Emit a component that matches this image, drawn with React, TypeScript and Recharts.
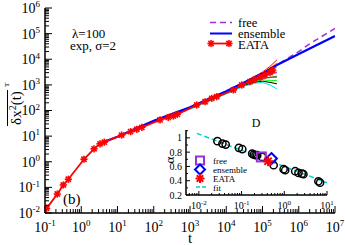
import React from "react";
import { ComposedChart, Scatter, XAxis, YAxis, CartesianGrid } from "recharts";

const FONT = "Liberation Serif, Times New Roman, serif";

// EATA (red, star markers)
const eataT = [0.111, 0.218, 0.32, 0.44, 1.19, 2.25, 3.29, 4.32, 13, 23, 34, 47, 149, 252, 346, 446, 1530, 2600, 3970, 5460, 15700, 26700, 45200, 62100, 85300, 117000, 161000, 191000];
const eataMsd = [0.0152, 0.055, 0.124, 0.207, 1.25, 3.2, 5.0, 5.8, 11, 15, 18.5, 22, 43, 54, 61, 71, 164, 220, 299, 346, 631, 989, 1330, 1650, 1980, 2430, 2990, 3800];

// ensemble (blue)
const ensT = [4.3, 10, 30, 100, 300, 1000, 3000, 1e4, 3e4, 1e5, 2.5e5, 1e6, 1e7];
const ensMsd = [6, 9.5, 19, 40, 72, 135, 270, 560, 1200, 2700, 6000, 16000, 80700];

// free (violet dashed)
const freeT = [1e5, 2.5e5, 1e6, 2e6, 1e7];
const freeMsd = [2700, 6000, 20000, 40000, 160000];

// single trajectories (thin)
const trajT = [100, 1000, 1e4, 3e4, 6e4, 1e5, 1.6e5, 2.5e5];
const trajColors = ["#ff0000", "#ff8c00", "#0000ff", "#ff00ff", "#e6e600", "#9400d3", "#00a000", "#a52a2a", "#00ff00", "#000000", "#00e0e0"];
const trajRed = [40, 130, 540, 1200, 2100, 3200, 5200, 9500];
const trajOrange = [39, 128, 520, 1150, 2000, 3000, 4600, 7000];
const trajBlue = [40, 132, 550, 1200, 2100, 2900, 4300, 6000];
const trajMagenta = [39, 126, 510, 1100, 1800, 2600, 3700, 5000];
const trajYellow = [38, 122, 490, 1050, 1650, 2200, 2900, 3500];
const trajViolet = [39, 125, 500, 1050, 1600, 2100, 2700, 3000];
const trajGreen = [38, 120, 480, 1000, 1500, 1900, 1900, 2200];
const trajMaroon = [39, 122, 480, 980, 1400, 1750, 2000, 2000];
const trajLime = [37, 118, 470, 950, 1350, 1600, 1450, 1500];
const trajBlack = [38, 120, 460, 930, 1250, 1400, 1250, 1100];
const trajCyan = [36, 112, 440, 880, 1150, 1250, 1000, 700];
const trajs = [trajRed, trajOrange, trajBlue, trajMagenta, trajYellow, trajViolet, trajGreen, trajMaroon, trajLime, trajBlack, trajCyan];

// inset: alpha vs D
const circD = [0.0272, 0.0356, 0.0425, 0.0865, 0.104, 0.177, 0.193, 0.212, 0.232, 0.303, 0.564, 0.964, 1.05, 1.8, 2.15, 2.58, 2.81, 6.28, 6.87];
const circA = [0.954, 0.92, 0.906, 0.86, 0.841, 0.779, 0.766, 0.757, 0.757, 0.733, 0.617, 0.561, 0.547, 0.533, 0.509, 0.499, 0.491, 0.392, 0.373];
const fitD = [0.009, 10];
const fitA = [1.063, 0.372];
const freeD = [0.29];
const freeA = [0.733];
const ensD = [0.5];
const ensA = [0.71];
const eataD = [0.417];
const eataA = [0.673];

const mainXMajor = [0.1, 1, 10, 100, 1e3, 1e4, 1e5, 1e6, 1e7];
const mainYMajor = [0.01, 0.1, 1, 10, 100, 1e3, 1e4, 1e5, 1e6];
const insetXMajor = [0.01, 0.1, 1, 10];
const insetYMajor = [0.2, 0.4, 0.6, 0.8, 1];
const insetYLabels = ["0.2", "0.4", "0.6", "0.8", "1"];

function withMinor(majors: number[]) {
  const out: number[] = [];
  majors.forEach((m, i) => {
    out.push(m);
    if (i < majors.length - 1) for (let k = 2; k < 10; k++) out.push(m * k);
  });
  return out;
}
const mainXTicks = withMinor(mainXMajor);
const mainYTicks = withMinor(mainYMajor);
const insetXTicks = [0.006, 0.007, 0.008, 0.009, ...withMinor(insetXMajor)];
const insetYTicks = [0.2, 0.3, 0.4, 0.5, 0.6, 0.7, 0.8, 0.9, 1, 1.1];

const zip = (xs: number[], ys: number[]) => xs.map((x, i) => ({ x, y: ys[i] }));

const isMajor = (v: number, majors: number[]) => majors.some((m) => Math.abs(m - v) < 1e-9 * Math.max(1, m));
const expOf = (v: number) => Math.round(Math.log10(v));

function StarMark({ cx, cy, r = 3.6, color = "#ff0000", w = 1.6 }: any) {
  const d = r * 0.72;
  return (
    <g stroke={color} strokeWidth={w}>
      <line x1={cx - r} y1={cy} x2={cx + r} y2={cy} />
      <line x1={cx} y1={cy - r} x2={cx} y2={cy + r} />
      <line x1={cx - d} y1={cy - d} x2={cx + d} y2={cy + d} />
      <line x1={cx - d} y1={cy + d} x2={cx + d} y2={cy - d} />
      <circle cx={cx} cy={cy} r={r * 0.45} fill={color} stroke="none" />
    </g>
  );
}
const Square = ({ cx, cy, s = 4.5 }: any) => (
  <rect x={cx - s} y={cy - s} width={2 * s} height={2 * s} fill="none" stroke="#9b30d9" strokeWidth={2} />
);
const Diamond = ({ cx, cy, s = 5.5 }: any) => (
  <polygon points={`${cx},${cy - s} ${cx + s},${cy} ${cx},${cy + s} ${cx - s},${cy}`} fill="none" stroke="#0000ff" strokeWidth={2} />
);
const Circ = ({ cx, cy }: any) => <circle cx={cx} cy={cy} r={3.6} fill="none" stroke="#000" strokeWidth={1.5} />;
const NoMark = () => <g />;

function makeLogTick(side: "b" | "t" | "l" | "r", majors: number[], big: number, small: number, fs: number, sfs: number, off: number, label: boolean) {
  return (props: any) => {
    const { x, y, payload } = props;
    const v = payload.value;
    const maj = isMajor(v, majors);
    const len = maj ? big : small;
    let line;
    if (side === "b") line = <line x1={x} y1={y} x2={x} y2={y - len} stroke="#000" />;
    else if (side === "t") line = <line x1={x} y1={y} x2={x} y2={y + len} stroke="#000" />;
    else if (side === "l") line = <line x1={x} y1={y} x2={x + len} y2={y} stroke="#000" />;
    else line = <line x1={x} y1={y} x2={x - len} y2={y} stroke="#000" />;
    let txt = null;
    if (label && maj) {
      const e = expOf(v);
      if (side === "b")
        txt = (
          <text x={x} y={y + off} textAnchor="middle" fontFamily={FONT} fontSize={fs} fill="#000">
            10<tspan dy={-fs * 0.4} fontSize={sfs}>{e}</tspan>
          </text>
        );
      else
        txt = (
          <text x={x - off} y={y + fs * 0.35} textAnchor="end" fontFamily={FONT} fontSize={fs} fill="#000">
            10<tspan dy={-fs * 0.4} fontSize={sfs}>{e}</tspan>
          </text>
        );
    }
    return (
      <g>
        {line}
        {txt}
      </g>
    );
  };
}

const InsetYTick = (props: any) => {
  const { x, y, payload } = props;
  const v = payload.value;
  const idx = insetYMajor.findIndex((m) => Math.abs(m - v) < 1e-9);
  const maj = idx >= 0;
  return (
    <g>
      <line x1={x} y1={y} x2={x + (maj ? 4 : 2)} y2={y} stroke="#000" />
      {maj && (
        <text x={x - 4} y={y + 3.5} textAnchor="end" fontFamily={FONT} fontSize={10} fill="#000">
          {insetYLabels[idx]}
        </text>
      )}
    </g>
  );
};
const InsetYTickR = (props: any) => {
  const { x, y, payload } = props;
  const maj = insetYMajor.some((m) => Math.abs(m - payload.value) < 1e-9);
  return <line x1={x} y1={y} x2={x - (maj ? 4 : 2)} y2={y} stroke="#000" />;
};

const axisLine = { stroke: "#000", strokeWidth: 1.5 };

function MainChart() {
  return (
    <ComposedChart width={345} height={245} margin={{ top: 8, right: 10, bottom: 0, left: 0 }}>
      <XAxis xAxisId="b" dataKey="x" type="number" scale="log" domain={[0.1, 1e7]} allowDataOverflow ticks={mainXTicks} interval={0} tickSize={0} tickMargin={0} height={32} axisLine={axisLine} tickLine={false} tick={makeLogTick("b", mainXMajor, 7, 4, 14, 9, 19, true)} />
      <XAxis xAxisId="t" orientation="top" dataKey="x" type="number" scale="log" domain={[0.1, 1e7]} allowDataOverflow ticks={mainXTicks} interval={0} tickSize={0} tickMargin={0} height={0} axisLine={axisLine} tickLine={false} tick={makeLogTick("t", mainXMajor, 7, 4, 14, 9, 19, false)} />
      <YAxis yAxisId="l" dataKey="y" type="number" scale="log" domain={[0.01, 1e6]} allowDataOverflow ticks={mainYTicks} interval={0} tickSize={0} tickMargin={0} width={45} axisLine={axisLine} tickLine={false} tick={makeLogTick("l", mainYMajor, 7, 4, 14, 9, 5, true)} />
      <YAxis yAxisId="r" orientation="right" dataKey="y" type="number" scale="log" domain={[0.01, 1e6]} allowDataOverflow ticks={mainYTicks} interval={0} tickSize={0} tickMargin={0} width={0} axisLine={axisLine} tickLine={false} tick={makeLogTick("r", mainYMajor, 7, 4, 14, 9, 5, false)} />
      {trajs.map((tr, i) => (
        <Scatter key={i} xAxisId="b" yAxisId="l" data={zip(trajT, tr)} line={{ stroke: trajColors[i], strokeWidth: 1 }} shape={NoMark} isAnimationActive={false} />
      ))}
      <Scatter xAxisId="b" yAxisId="l" data={zip(freeT, freeMsd)} line={{ stroke: "#9b30d9", strokeWidth: 1.5, strokeDasharray: "6 4" }} shape={NoMark} isAnimationActive={false} />
      <Scatter xAxisId="b" yAxisId="l" data={zip(ensT, ensMsd)} line={{ stroke: "#0000ff", strokeWidth: 2.2 }} shape={NoMark} isAnimationActive={false} />
      <Scatter xAxisId="b" yAxisId="l" data={zip(eataT, eataMsd)} line={{ stroke: "#ff0000", strokeWidth: 1.8 }} shape={(p: any) => <StarMark cx={p.cx} cy={p.cy} />} isAnimationActive={false} />
    </ComposedChart>
  );
}

function InsetChart() {
  return (
    <ComposedChart width={175} height={100} margin={{ top: 18, right: 8, bottom: 0, left: 0 }}>
      <CartesianGrid xAxisId="ib" yAxisId="il" horizontal={false} vertical={false} fill="#ffffff" fillOpacity={1} />
      <XAxis xAxisId="ib" dataKey="x" type="number" scale="log" domain={[0.005, 10]} allowDataOverflow ticks={insetXTicks} interval={0} tickSize={0} tickMargin={0} height={17} axisLine={axisLine} tickLine={false} tick={makeLogTick("b", insetXMajor, 4, 2, 10, 7, 14, true)} />
      <XAxis xAxisId="it" orientation="top" dataKey="x" type="number" scale="log" domain={[0.005, 10]} allowDataOverflow ticks={insetXTicks} interval={0} tickSize={0} tickMargin={0} height={0} axisLine={axisLine} tickLine={false} tick={makeLogTick("t", insetXMajor, 4, 2, 10, 7, 14, false)} />
      <YAxis yAxisId="il" dataKey="y" type="number" domain={[0.2, 1.11]} allowDataOverflow ticks={insetYTicks} interval={0} tickSize={0} tickMargin={0} width={26} axisLine={axisLine} tickLine={false} tick={InsetYTick} />
      <YAxis yAxisId="ir" orientation="right" dataKey="y" type="number" domain={[0.2, 1.11]} allowDataOverflow ticks={insetYTicks} interval={0} tickSize={0} tickMargin={0} width={0} axisLine={axisLine} tickLine={false} tick={InsetYTickR} />
      <Scatter xAxisId="ib" yAxisId="il" data={zip(fitD, fitA)} line={{ stroke: "#00d0d0", strokeWidth: 1.5, strokeDasharray: "5 3" }} shape={NoMark} isAnimationActive={false} />
      <Scatter xAxisId="ib" yAxisId="il" data={zip(circD, circA)} shape={Circ} isAnimationActive={false} />
      <Scatter xAxisId="ib" yAxisId="il" data={zip(freeD, freeA)} shape={Square} isAnimationActive={false} />
      <Scatter xAxisId="ib" yAxisId="il" data={zip(ensD, ensA)} shape={Diamond} isAnimationActive={false} />
      <Scatter xAxisId="ib" yAxisId="il" data={zip(eataD, eataA)} shape={(p: any) => <StarMark cx={p.cx} cy={p.cy} r={5} w={2} />} isAnimationActive={false} />
    </ComposedChart>
  );
}

function Labels() {
  const t = { fontFamily: FONT, fill: "#000" };
  return (
    <svg width={345} height={245} style={{ position: "absolute", left: 0, top: 0, pointerEvents: "none" }}>
      {/* main legend */}
      <line x1={210} y1={22.5} x2={232} y2={22.5} stroke="#9b30d9" strokeWidth={1.5} strokeDasharray="6 4" />
      <text x={238} y={27} fontSize={12.5} {...t}>free</text>
      <line x1={210} y1={33.5} x2={232} y2={33.5} stroke="#0000ff" strokeWidth={2} />
      <text x={238} y={38} fontSize={12.5} {...t}>ensemble</text>
      <line x1={211} y1={43.5} x2={229} y2={43.5} stroke="#ff0000" strokeWidth={1.8} />
      <StarMark cx={211} cy={43.5} />
      <StarMark cx={229} cy={43.5} />
      <text x={238} y={48.5} fontSize={12.5} {...t}>EATA</text>

      <text x={72} y={38} fontSize={13} {...t}>λ=100</text>
      <text x={70} y={50} fontSize={13} {...t}>exp, σ=2</text>
      <text x={63} y={204} fontSize={15} {...t}>(b)</text>
      <text x={190} y={243} fontSize={15} textAnchor="middle" {...t}>t</text>

      {/* y label */}
      <g transform="translate(21,108) rotate(-90)">
        <text x={0} y={0} textAnchor="middle" fontSize={15} {...t}>
          δx<tspan dy={-5} fontSize={10}>2</tspan><tspan dy={5}>(t)</tspan>
        </text>
        <line x1={-18} y1={-13.5} x2={18} y2={-13.5} stroke="#000" strokeWidth={1} />
        <text x={21} y={-12} fontSize={7} {...t}>T</text>
      </g>

      {/* inset labels */}
      <text x={256} y={127} fontSize={12} textAnchor="middle" {...t}>D</text>
      <text transform="translate(174,160) rotate(-90)" textAnchor="middle" fontSize={13} {...t}>α</text>
      <Square cx={200} cy={160.5} s={4} />
      <text x={213} y={164} fontSize={9} {...t}>free</text>
      <Diamond cx={200} cy={169.5} s={5} />
      <text x={213} y={173} fontSize={9} {...t}>ensemble</text>
      <StarMark cx={200} cy={178.5} r={4.5} w={2} />
      <text x={213} y={182} fontSize={9} {...t}>EATA</text>
      <line x1={196} y1={187} x2={206} y2={187} stroke="#00d0d0" strokeWidth={1.5} strokeDasharray="4 2" />
      <text x={213} y={190.5} fontSize={9} {...t}>fit</text>
    </svg>
  );
}

export default function App() {
  return (
    <div style={{ position: "absolute", left: 0, top: 0, width: 345, height: 245, background: "#fff" }}>
      <div style={{ position: "absolute", left: 0, top: 0 }}>
        <MainChart />
      </div>
      <div style={{ position: "absolute", left: 160, top: 112 }}>
        <InsetChart />
      </div>
      <Labels />
    </div>
  );
}
